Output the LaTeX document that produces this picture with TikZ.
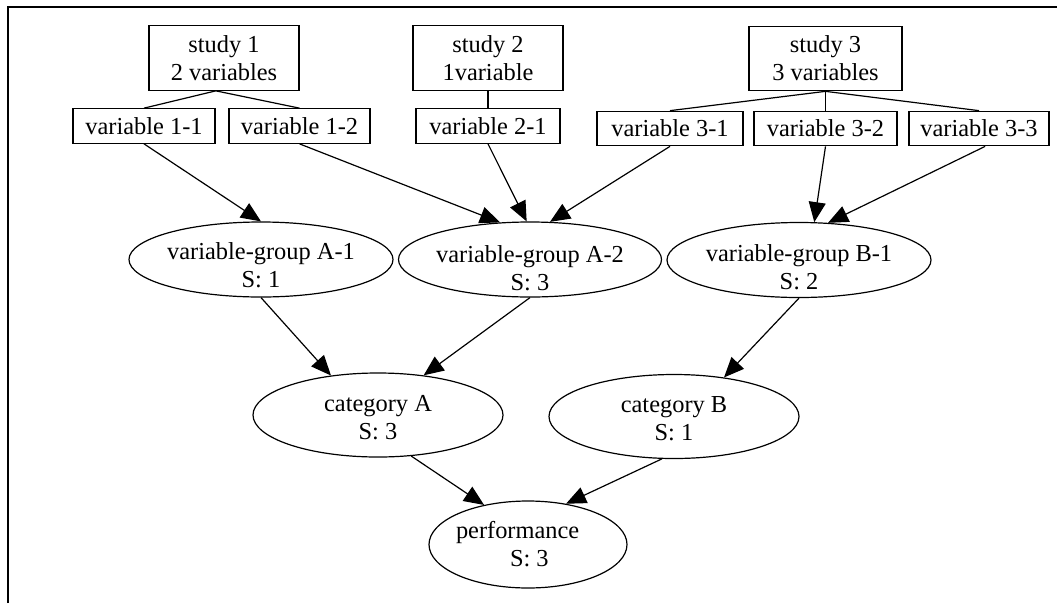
\documentclass[tikz,border=0pt]{standalone}
\usepackage{fontspec}
\setmainfont{Liberation Serif}
\usetikzlibrary{shapes.geometric,arrows.meta}
\begin{document}
\begin{tikzpicture}[x=1pt,y=-1pt,
  every node/.style={font=\fontsize{24.4pt}{28pt}\selectfont, line width=1.2pt},
  studybox/.style={draw, rectangle, inner sep=0pt, minimum width=150pt, minimum height=64.5pt, align=center},
  varbox/.style={draw, rectangle, inner sep=0pt, minimum height=34.5pt},
  grp/.style={draw, ellipse, inner sep=-10pt, minimum width=264pt, minimum height=75pt, align=center},
  cat/.style={draw, ellipse, inner sep=-10pt, minimum width=250pt, minimum height=84pt, align=center},
  link/.style={line width=1.2pt},
  arr/.style={line width=1.2pt, -{Triangle[length=20pt,width=17pt]}},
  frame/.style={line width=2pt}]
\useasboundingbox (0,0) rectangle (1057,603);
% frame
\coordinate (fb) at (8,603);
\coordinate (fc) at (8,7);
\coordinate (fr) at (1057,7);
\draw[frame] (fb) -- (fc) -- (fr);
% studies
\node[studybox] (s1) at (224,58) {study 1\\2 variables};
\node[studybox] (s2) at (488,58) {study 2\\1variable};
\node[studybox, minimum width=153pt] (s3) at (825.5,58.5) {study 3\\3 variables};
% variables
\node[varbox, minimum width=142pt] (v11) at (144,126) {variable 1-1};
\node[varbox, minimum width=141pt] (v12) at (299.5,126) {variable 1-2};
\node[varbox, minimum width=144pt] (v21) at (488,126) {variable 2-1};
\node[varbox, minimum width=146pt] (v31) at (670,128.5) {variable 3-1};
\node[varbox, minimum width=143pt] (v32) at (825.5,128.5) {variable 3-2};
\node[varbox, minimum width=140pt] (v33) at (979,128.5) {variable 3-3};
% groups
\node[grp] (a1) at (261,259.5) {\rule{0pt}{29pt}variable-group A-1\\S: 1};
\node[grp, minimum width=263pt] (a2) at (530,259.5) {\rule{0pt}{35pt}variable-group A-2\\S: 3};
\node[grp] (b1) at (799,260) {\rule{0pt}{32pt}variable-group B-1\\S: 2};
% categories
\node[cat] (ca) at (378,415) {\rule{0pt}{21pt}category A\\S: 3};
\node[cat] (cb) at (674,416.5) {\rule{0pt}{21pt}category B\\S: 1};
% performance
\node[draw, ellipse, inner sep=-10pt, minimum width=198pt, minimum height=87pt, align=center] (pf) at (528,544.5)
  {\makebox[144pt][l]{performance}\\\makebox[144pt][l]{\hspace*{54pt}S: 3}};
% undirected links
\draw[link] (s1.256) -- (v11.north);
\draw[link] (s1.256) -- (v12.north);
\draw[link] (s2) -- (v21);
\draw[link] (s3.south) -- (v31.north);
\draw[link] (s3.south) -- (v32.north);
\draw[link] (s3.south) -- (v33.north);
% arrows
\draw[arr] (v11.south) -- (a1.north);
\draw[arr] (v12.south) -- (a2.129);
\draw[arr] (v21.south) -- (a2.95);
\draw[arr] (v31.south) -- (a2.62);
\draw[arr] (v32.south) -- (b1.68);
\draw[arr] (v33.289) -- (b1.52);
\draw[arr] (a1.south) -- (ca.140);
\draw[arr] (a2.south) -- (ca.41);
\draw[arr] (b1.south) -- (cb.38);
\draw[arr] (ca.309) -- (pf.138);
\draw[arr] (cb.254) -- (pf.47);
\end{tikzpicture}
\end{document}
